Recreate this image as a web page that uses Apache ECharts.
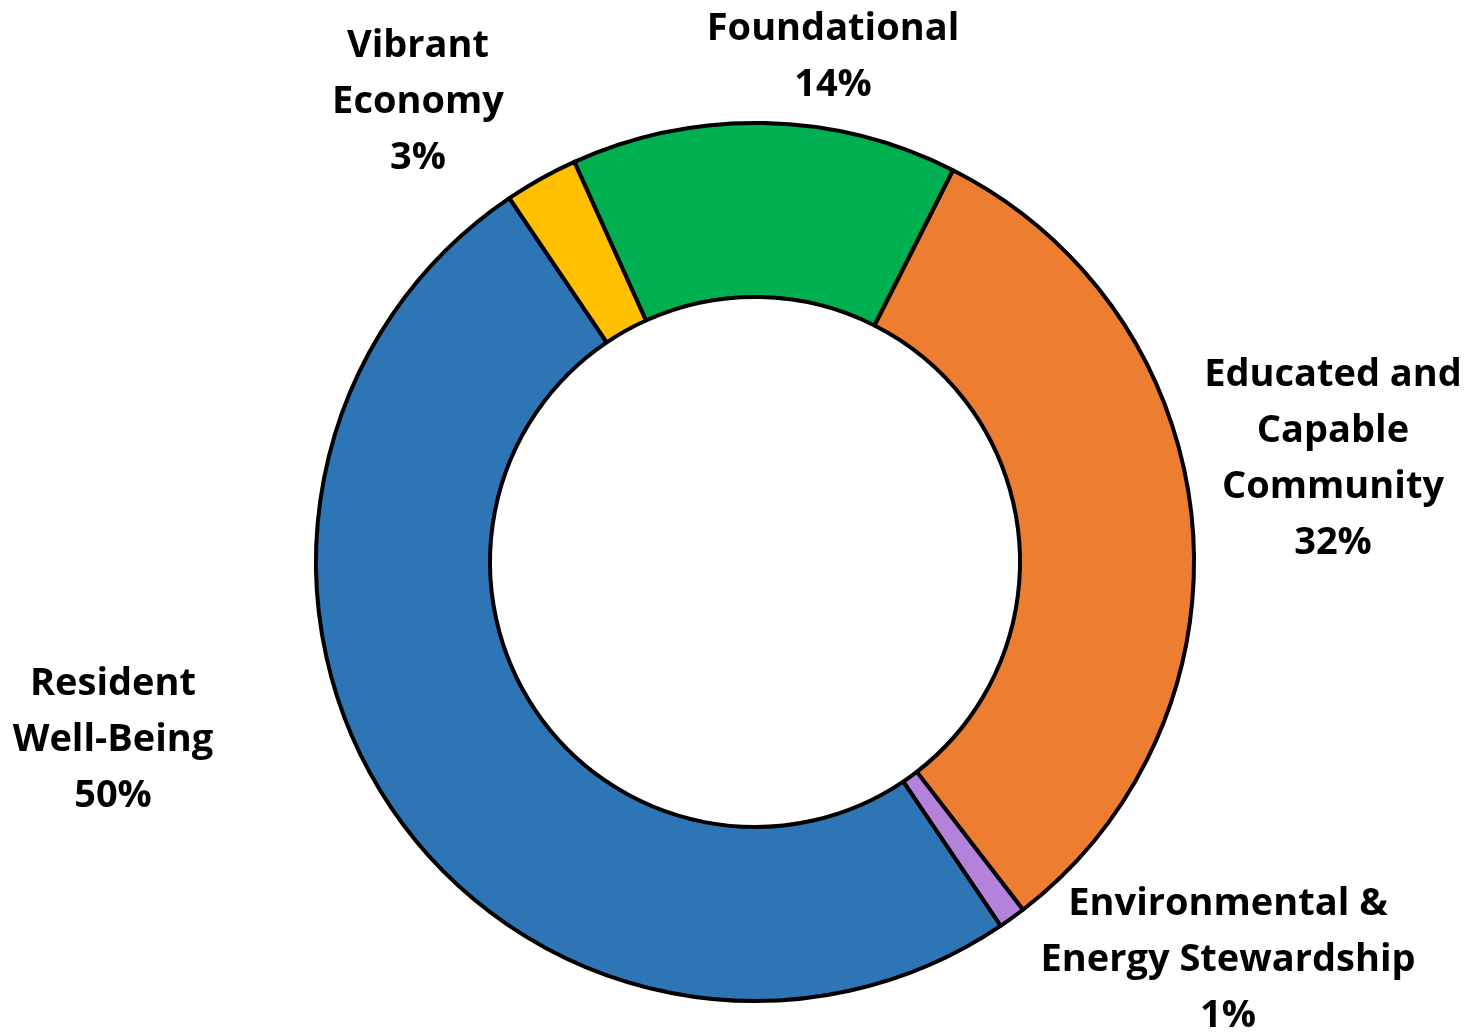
<!DOCTYPE html>
<html>
<head>
<meta charset="utf-8">
<script src="https://cdn.jsdelivr.net/npm/echarts@6/dist/echarts.min.js"></script>
<style>html,body{margin:0;padding:0;background:#fff;}#c{width:1481px;height:1036px;}</style>
</head>
<body>
<div id="c"></div>
<script>
const categories = ['Foundational', 'Educated and\nCapable\nCommunity', 'Environmental &\nEnergy Stewardship', 'Resident\nWell-Being', 'Vibrant\nEconomy'];
const values = [14.2, 32.1, 1.0, 50.0, 2.7];
const colors = ['#00B050', '#ED7D31', '#B482DA', '#2E75B6', '#FFC000'];
const labelCenters = [[833, 57], [1333, 459], [1228, 960], [113, 740], [418, 102]];

const chart = echarts.init(document.getElementById('c'));
chart.setOption({
  animation: false,
  series: [{
    type: 'pie',
    center: [755, 562],
    radius: [265, 439],
    startAngle: 114.3,
    clockwise: true,
    avoidLabelOverlap: false,
    data: categories.map((n, i) => ({ name: n, value: values[i], itemStyle: { color: colors[i] } })),
    itemStyle: { borderColor: '#000', borderWidth: 4 },
    label: {
      show: true,
      position: 'outside',
      formatter: p => p.name + '\n' + Math.round(p.percent) + '%',
      fontFamily: 'Open Sans',
      fontWeight: 'bold',
      fontSize: 38,
      lineHeight: 56,
      color: '#000',
      align: 'center'
    },
    labelLine: { show: false },
    labelLayout: p => ({
      x: labelCenters[p.dataIndex][0],
      y: labelCenters[p.dataIndex][1],
      align: 'center',
      verticalAlign: 'middle'
    }),
    emphasis: { disabled: true }
  }]
});
</script>
</body>
</html>
